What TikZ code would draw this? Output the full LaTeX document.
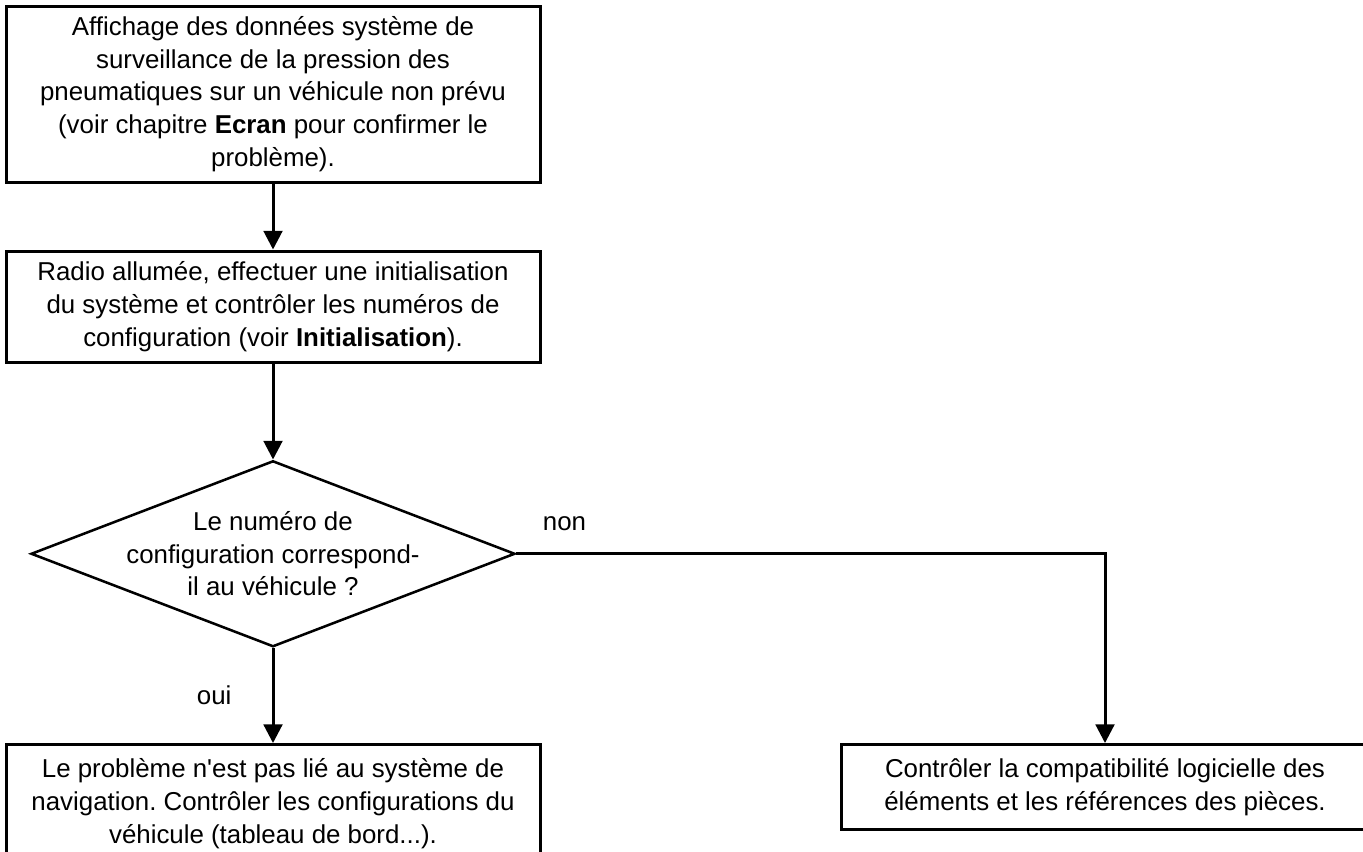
\documentclass[tikz,border=0pt]{standalone}
\usepackage{fontspec}
\setmainfont{Liberation Sans}
\frenchspacing
\usetikzlibrary{arrows.meta,positioning,shapes.geometric}
\tikzset{
  base/.style={draw=black,line width=2.25pt,align=center,inner sep=0pt,fill=white},
  action/.style={base,minimum width=400.5pt},
  decision/.style={diamond,draw=black,line width=1.9pt,minimum width=363pt,minimum height=139.5pt,inner sep=0pt},
  flow/.style={-{Triangle[length=14pt,width=14pt]},line width=2.25pt},
  answer/.style={inner sep=0pt},
  every node/.style={font=\fontsize{19.4pt}{24.6pt}\selectfont}
}
\begin{document}
\begin{tikzpicture}
\useasboundingbox (0,0) rectangle (1022.25pt,-638.25pt);
\clip (0,0) rectangle (1022.25pt,-638.25pt);

\node[action,minimum height=132pt] (display) at (204.75pt,-70.5pt) {Affichage des données système de\\surveillance de la pression des\\pneumatiques sur un véhicule non prévu\\(voir chapitre \textbf{Ecran} pour confirmer le\\problème).};
\node[action,minimum height=83.25pt,below=49.5pt of display] (init) {Radio allumée, effectuer une initialisation\\du système et contrôler les numéros de\\configuration (voir \textbf{Initialisation}).};
\node[decision,below=72pt of init,label={[align=center]center:Le numéro de\\configuration correspond-\\il au véhicule ?}] (check) {};
\node[action,minimum height=88.5pt,below=71.25pt of check] (navcheck) {Le problème n\textquotesingle est pas lié au système de\\navigation. Contrôler les configurations du\\véhicule (tableau de bord...).};
\node[base,minimum width=396pt,minimum height=63.75pt,right=223.5pt of navcheck.north east,anchor=north west] (softcheck) {Contrôler la compatibilité logicielle des\\éléments et les références des pièces.};

\draw[flow] (display) -- (init);
\draw[flow] (init) -- (check);
\draw[flow] (check) -- node[answer,left=30pt]{oui} (navcheck);
\draw[flow] (check.east) -| node[answer,pos=.041,above=16.5pt]{non} (softcheck.north);
\end{tikzpicture}
\end{document}
